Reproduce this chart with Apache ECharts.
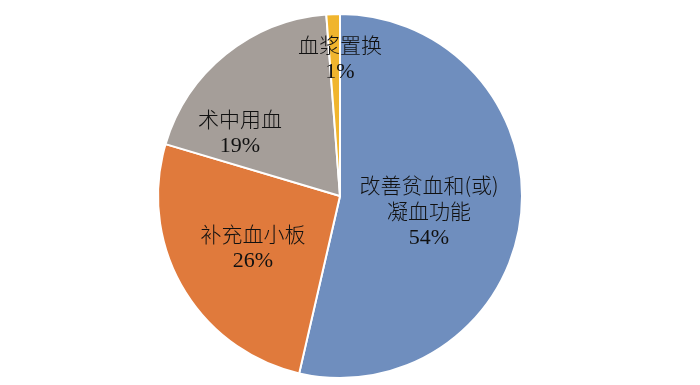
<!DOCTYPE html>
<html><head><meta charset="utf-8">
<script src="https://cdn.jsdelivr.net/npm/echarts@6/dist/echarts.min.js"></script>
<style>html,body{margin:0;padding:0;background:#fff}#c{width:700px;height:385px}</style>
</head><body><div id="c"></div>
<script>
var categories = ['改善贫血和(或)\n凝血功能', '补充血小板', '术中用血', '血浆置换'];
var values = [53.6, 26.0, 19.2, 1.2];
var colors = ['#6F8EBE', '#E07A3C', '#A59E99', '#F0B52E'];
// label anchor positions (layout only)
var labelPos = [[429, 212], [253, 248], [240, 133], [340, 59]];

var chart = echarts.init(document.getElementById('c'));
chart.setOption({
  animation: false,
  series: [{
    type: 'pie',
    center: [340, 196],
    radius: 182,
    startAngle: 90,
    clockwise: true,
    data: categories.map(function (n, i) {
      return { name: n, value: values[i], itemStyle: { color: colors[i] } };
    }),
    itemStyle: { borderColor: '#fff', borderWidth: 2 },
    label: {
      position: 'inside',
      formatter: function (p) {
        return '{n|' + p.name + '}\n{p|' + Math.round(p.percent) + '%}';
      },
      rich: {
        n: { fontFamily: '"Noto Sans CJK SC"', fontSize: 21, fontWeight: 300, lineHeight: 26, color: '#111' },
        p: { fontFamily: '"Liberation Serif"', fontSize: 22, lineHeight: 27, color: '#111' }
      },
      align: 'center'
    },
    labelLine: { show: false },
    labelLayout: function (params) {
      var pos = labelPos[params.dataIndex];
      return { x: pos[0], y: pos[1], align: 'center', verticalAlign: 'middle' };
    }
  }]
});
</script></body></html>
